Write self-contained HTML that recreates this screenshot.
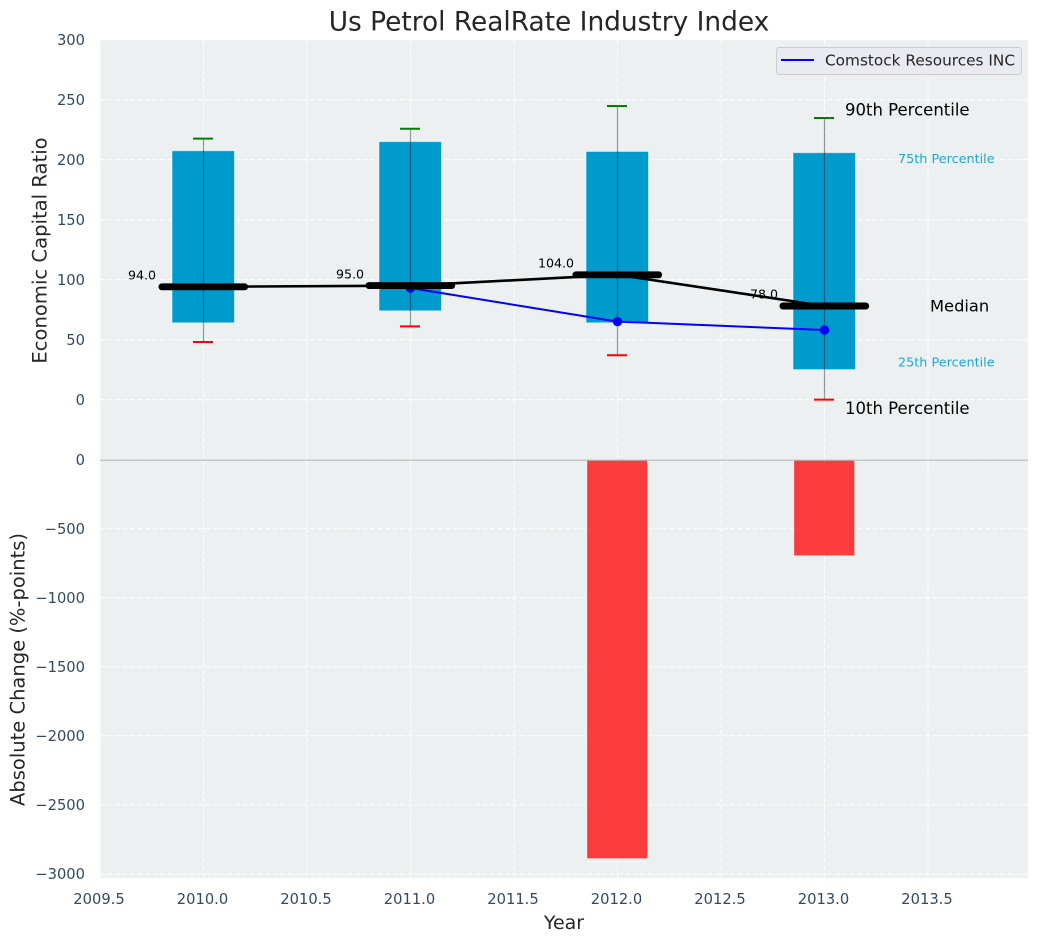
<!DOCTYPE html>
<html>
<head>
<meta charset="utf-8">
<style>
html,body{margin:0;padding:0;background:#fff;}
svg{display:block;font-family:"DejaVu Sans","Liberation Sans",sans-serif;}
</style>
</head>
<body>
<svg id="chart" xmlns="http://www.w3.org/2000/svg" width="1039" height="942" viewBox="0 0 1039 942"></svg>
<script>
const years = [2010, 2011, 2012, 2013];
const p90 = [217.5, 225.7, 244.7, 234.7];
const p75 = [207.4, 215, 206.8, 205.8];
const medians = [94, 95, 104, 78];
const p25 = [64, 74, 64, 25];
const p10 = [48, 61, 37, 0];
const companyYears = [2011, 2012, 2013];
const companyValues = [93, 65, 58];
const changeYears = [2012, 2013];
const changeValues = [-2890, -695];
const xTicks = [2009.5, 2010, 2010.5, 2011, 2011.5, 2012, 2012.5, 2013, 2013.5];
const xTickLabels = ['2009.5', '2010.0', '2010.5', '2011.0', '2011.5', '2012.0', '2012.5', '2013.0', '2013.5'];
const topTicks = [0, 50, 100, 150, 200, 250, 300];
const bottomTicks = [0, -500, -1000, -1500, -2000, -2500, -3000];

const svg = document.getElementById('chart');
const NS = 'http://www.w3.org/2000/svg';
const xScale = v => 203.5 + (v - 2010) * 207;
const yTop = v => 399.6 - v * 1.2;
const yBottom = v => 459.7 - v * 0.138;

function mk(tag, attrs, text) {
  const el = document.createElementNS(NS, tag);
  for (const k in attrs) el.setAttribute(k, attrs[k]);
  if (text !== undefined) el.textContent = text;
  svg.appendChild(el);
  return el;
}
let el;

el = mk('rect', {x: 100, y: 40, width: 928, height: 420, fill: '#ecf0f1'});


el = mk('rect', {x: 100, y: 460, width: 928, height: 418, fill: '#ecf0f1'});



const gridStyle = {stroke: '#ffffff', 'stroke-width': 1, 'stroke-dasharray': '5 2.5', fill: 'none'};
xTicks.forEach((t, i) => {
  el = mk('line', Object.assign({x1: xScale(t), x2: xScale(t), y1: 40, y2: 460}, gridStyle));
  
  
  el = mk('line', Object.assign({x1: xScale(t), x2: xScale(t), y1: 460, y2: 878}, gridStyle));
  
  
  el = mk('text', {x: xScale(t) - 1, y: 904, 'text-anchor': 'middle', 'font-size': 14.7, fill: '#34495e'}, xTickLabels[i]);
  
  
});
topTicks.forEach(t => {
  el = mk('line', Object.assign({x1: 100, x2: 1028, y1: yTop(t), y2: yTop(t)}, gridStyle));
  
  
  el = mk('text', {x: 85, y: yTop(t) + 5.4, 'text-anchor': 'end', 'font-size': 14.7, fill: '#34495e'}, String(t));
  
  
});
bottomTicks.forEach(t => {
  el = mk('line', Object.assign({x1: 100, x2: 1028, y1: yBottom(t), y2: yBottom(t)}, gridStyle));
  
  
  el = mk('text', {x: 85, y: yBottom(t) + 5.4, 'text-anchor': 'end', 'font-size': 14.7, fill: '#34495e'}, String(t).replace('-', '\u2212'));
  
  
});

years.forEach((yr, i) => {
  const cx = xScale(yr);
  el = mk('rect', {x: cx - 31.5, y: yTop(p75[i]), width: 62.5, height: yTop(p25[i]) - yTop(p75[i]), fill: '#009bcd', stroke: '#ffffff', 'stroke-opacity': 0.5, 'stroke-width': 1});
  
  
  el = mk('line', {x1: cx, x2: cx, y1: yTop(p90[i]), y2: yTop(p10[i]), stroke: '#000000', 'stroke-opacity': 0.4, 'stroke-width': 1.2});
  
  
  el = mk('line', {x1: cx - 10.5, x2: cx + 9.5, y1: yTop(p90[i]), y2: yTop(p90[i]), stroke: '#008000', 'stroke-width': 2});
  
  
  el = mk('line', {x1: cx - 10.5, x2: cx + 9.5, y1: yTop(p10[i]), y2: yTop(p10[i]), stroke: '#ff0000', 'stroke-width': 2});
  
  
});

el = mk('polyline', {points: companyYears.map((y, i) => xScale(y) + ',' + yTop(companyValues[i])).join(' '), fill: 'none', stroke: '#0000ff', 'stroke-width': 2});


companyYears.forEach((y, i) => {
  el = mk('circle', {cx: xScale(y), cy: yTop(companyValues[i]), r: 4.7, fill: '#0000ff'});
  
  
});

el = mk('polyline', {points: years.map((y, i) => xScale(y) + ',' + yTop(medians[i])).join(' '), fill: 'none', stroke: '#000000', 'stroke-width': 2.6});


const labelShift = [47.5, 46.5, 43.5, 46.5];
years.forEach((yr, i) => {
  const cx = xScale(yr);
  el = mk('line', {x1: cx - 41.6, x2: cx + 41.2, y1: yTop(medians[i]), y2: yTop(medians[i]), stroke: '#000000', 'stroke-width': 6.9, 'stroke-linecap': 'round'});
  
  
  el = mk('text', {x: cx - labelShift[i], y: yTop(medians[i]) - 7.3, 'text-anchor': 'end', 'font-size': 12.6, fill: '#000000'}, medians[i].toFixed(1));
  
  
});

changeYears.forEach((yr, i) => {
  el = mk('rect', {x: xScale(yr) - 30.5, y: yBottom(0), width: 60.5, height: yBottom(changeValues[i]) - yBottom(0), fill: '#ff0000', 'fill-opacity': 0.75, stroke: '#ffffff', 'stroke-opacity': 0.3, 'stroke-width': 1});
  
  
});

el = mk('line', {x1: 100, x2: 1028, y1: 460.2, y2: 460.2, stroke: '#b8b8b8', 'stroke-width': 1.2});



const last = years.length - 1;
el = mk('text', {x: 845, y: yTop(234) - 3.5, 'font-size': 16.5, fill: '#000000'}, '90th Percentile');


el = mk('text', {x: 898, y: yTop(205) + 9.6, 'font-size': 12.8, fill: '#1ea6d6'}, '75th Percentile');


el = mk('text', {x: 930, y: yTop(medians[last]) + 5.5, 'font-size': 16.3, fill: '#000000'}, 'Median');


el = mk('text', {x: 898, y: yTop(p25[last]) - 3, 'font-size': 12.8, fill: '#1ea6d6'}, '25th Percentile');


el = mk('text', {x: 845, y: yTop(p10[last]) + 14.4, 'font-size': 16.5, fill: '#000000'}, '10th Percentile');



el = mk('rect', {x: 776.5, y: 47.5, width: 245, height: 27, rx: 3, fill: '#eaeaf2', stroke: '#cccccc', 'stroke-width': 1});


el = mk('line', {x1: 781, x2: 814, y1: 60, y2: 60, stroke: '#0000ff', 'stroke-width': 2});


el = mk('text', {x: 825, y: 65.5, 'font-size': 15.3, fill: '#262626'}, 'Comstock Resources INC');



el = mk('text', {x: 549, y: 30.5, 'text-anchor': 'middle', 'font-size': 26.4, fill: '#262626'}, 'Us Petrol RealRate Industry Index');


el = mk('text', {x: 564, y: 929, 'text-anchor': 'middle', 'font-size': 19, fill: '#262626'}, 'Year');


el = mk('text', {transform: 'translate(46.5,250.5) rotate(-90)', 'text-anchor': 'middle', 'font-size': 19.6, fill: '#262626'}, 'Economic Capital Ratio');


el = mk('text', {transform: 'translate(24.5,669.5) rotate(-90)', 'text-anchor': 'middle', 'font-size': 19.5, fill: '#262626'}, 'Absolute Change (%-points)');


</script>
</body>
</html>
